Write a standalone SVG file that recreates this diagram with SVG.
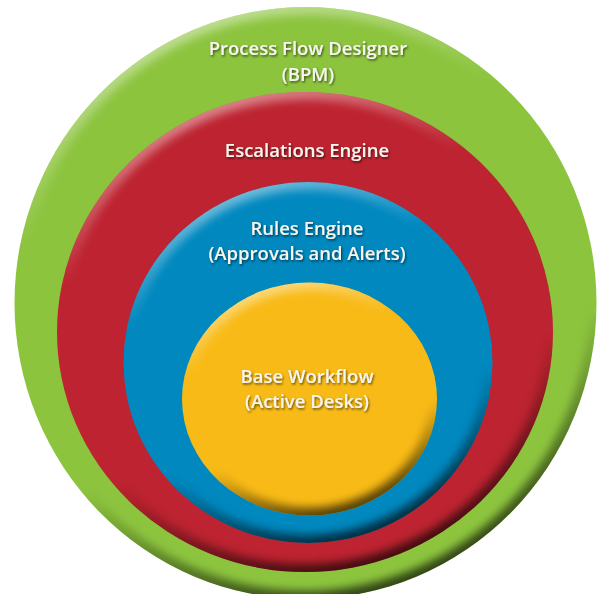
<svg xmlns="http://www.w3.org/2000/svg" width="600" height="594" viewBox="0 0 600 594">
  <defs>
    <linearGradient id="bevel" x1="0.2" y1="0" x2="0.55" y2="1">
      <stop offset="0" stop-color="#ffffff" stop-opacity="0.55"/>
      <stop offset="0.3" stop-color="#ffffff" stop-opacity="0"/>
      <stop offset="0.7" stop-color="#000000" stop-opacity="0"/>
      <stop offset="1" stop-color="#000000" stop-opacity="0.65"/>
    </linearGradient>
    <filter id="soft" x="-10%" y="-10%" width="120%" height="120%">
      <feGaussianBlur stdDeviation="4"/>
    </filter>
    <filter id="tshadow" x="-10%" y="-30%" width="120%" height="160%">
      <feDropShadow dx="1" dy="1.5" stdDeviation="1" flood-color="#000000" flood-opacity="0.6"/>
    </filter>
    <clipPath id="cGreen"><ellipse cx="305.5" cy="303" rx="291" ry="296"/></clipPath>
    <clipPath id="cRed"><ellipse cx="305" cy="332" rx="248" ry="240"/></clipPath>
    <clipPath id="cBlue"><ellipse cx="308" cy="362.5" rx="184.5" ry="180.5"/></clipPath>
    <clipPath id="cYellow"><ellipse cx="309.5" cy="399" rx="127.5" ry="116.5"/></clipPath>
  </defs>
  <style>
    .lbl { font-family: "Open Sans", "Liberation Sans", sans-serif; font-weight: 600; fill: #f7f5ee; text-anchor: middle; filter: url(#tshadow); }
    .bev { fill: none; stroke: url(#bevel); stroke-width: 16; filter: url(#soft); }
  </style>
  <rect width="600" height="594" fill="#ffffff"/>
  <g id="green">
    <ellipse cx="305.5" cy="303" rx="291" ry="296" fill="#8cc43e"/>
    <ellipse class="bev" cx="305.5" cy="303" rx="291" ry="296" clip-path="url(#cGreen)"/>
    <text class="lbl" x="308" y="55" font-size="18.5">Process Flow Designer</text>
    <text class="lbl" x="308" y="81" font-size="18.5">(BPM)</text>
  </g>
  <g id="red">
    <ellipse cx="305" cy="332" rx="248" ry="240" fill="#bd2330"/>
    <ellipse class="bev" cx="305" cy="332" rx="248" ry="240" clip-path="url(#cRed)"/>
    <text class="lbl" x="307" y="157" font-size="18.5">Escalations Engine</text>
  </g>
  <g id="blue">
    <ellipse cx="308" cy="362.5" rx="184.5" ry="180.5" fill="#0088bf"/>
    <ellipse class="bev" cx="308" cy="362.5" rx="184.5" ry="180.5" clip-path="url(#cBlue)"/>
    <text class="lbl" x="307" y="235" font-size="18.5">Rules Engine</text>
    <text class="lbl" x="307" y="260" font-size="18.5">(Approvals and Alerts)</text>
  </g>
  <g id="yellow">
    <ellipse cx="309.5" cy="399" rx="127.5" ry="116.5" fill="#f8ba16"/>
    <ellipse class="bev" cx="309.5" cy="399" rx="127.5" ry="116.5" clip-path="url(#cYellow)"/>
    <text class="lbl" x="307" y="383" font-size="18.5">Base Workflow</text>
    <text class="lbl" x="307" y="408" font-size="18.5">(Active Desks)</text>
  </g>
  <g id="connectors"/>
</svg>
